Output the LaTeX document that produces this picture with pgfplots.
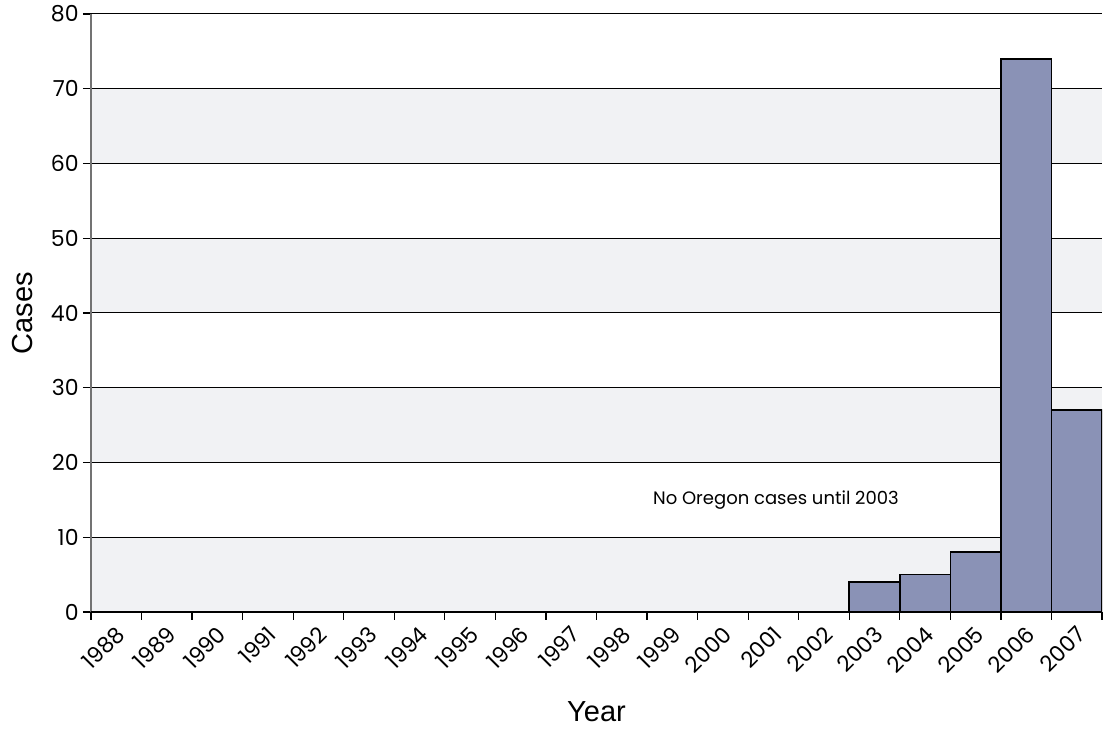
\documentclass[border=0pt]{standalone}
\usepackage{fontspec}
\setmainfont{Poppins}
\newfontfamily\arial{Liberation Sans}
\usepackage{pgfplots}
\pgfplotsset{compat=1.18}
\usetikzlibrary{calc}
\definecolor{barc}{RGB}{138,146,182}
\definecolor{band}{RGB}{241,242,244}
\begin{document}
\begin{tikzpicture}
\begin{axis}[
  set layers,
  scale only axis,
  width=505.5pt, height=299pt,
  xmin=-0.5, xmax=19.5, ymin=0, ymax=80,
  axis x line*=bottom, axis y line*=left,
  x axis line style={black, line width=0.8pt},
  y axis line style={black!55, line width=1pt},
  ytick={0,10,...,80},
  ymajorgrids, grid style={black, line width=0.5pt},
  xtick={0,...,19},
  xticklabels={1988,1989,1990,1991,1992,1993,1994,1995,1996,1997,1998,1999,2000,2001,2002,2003,2004,2005,2006,2007},
  minor xtick={-0.5,0.5,...,19.5},
  tick align=outside,
  major tick length=4pt, minor tick length=4pt,
  major x tick style={draw=none},
  minor x tick style={black, line width=0.6pt},
  major y tick style={black, line width=0.6pt},
  /pgf/number format/assume math mode=true,
  ticklabel style={font=\fontsize{11}{13}\selectfont},
  xticklabel style={rotate=45, anchor=north east, inner sep=1pt, xshift=-1pt},
  yticklabel style={inner sep=2pt},
  xlabel={\arial Year}, ylabel={\arial Cases},
  label style={font=\fontsize{14.5}{16}\selectfont},
  xlabel style={at={(axis description cs:0.5,-0.1672)}, anchor=center},
  ylabel style={at={(axis description cs:-0.0682,0.5)}, anchor=center},
]
\begin{pgfonlayer}{axis background}
\fill[band] (axis cs:-0.5,0) rectangle (axis cs:19.5,10);
\fill[band] (axis cs:-0.5,20) rectangle (axis cs:19.5,30);
\fill[band] (axis cs:-0.5,40) rectangle (axis cs:19.5,50);
\fill[band] (axis cs:-0.5,60) rectangle (axis cs:19.5,70);
\end{pgfonlayer}
\addplot[ybar, bar width=1, fill=barc, draw=black, line width=0.8pt] coordinates {
(0,0) (1,0) (2,0) (3,0) (4,0) (5,0) (6,0) (7,0) (8,0) (9,0) (10,0) (11,0) (12,0) (13,0) (14,0)
(15,4) (16,5) (17,8) (18,74) (19,27)};
\node[font=\fontsize{9}{11}\selectfont] at (axis cs:13.05,15.0) {No Oregon cases until 2003};
\coordinate (bl) at (rel axis cs:0,0);
\coordinate (tr) at (rel axis cs:1,1);
\end{axis}
\pgfresetboundingbox
\path[use as bounding box] ($(bl)+(-45.5pt,-59.5pt)$) rectangle ($(tr)+(1.5pt,7pt)$);
\end{tikzpicture}
\end{document}
